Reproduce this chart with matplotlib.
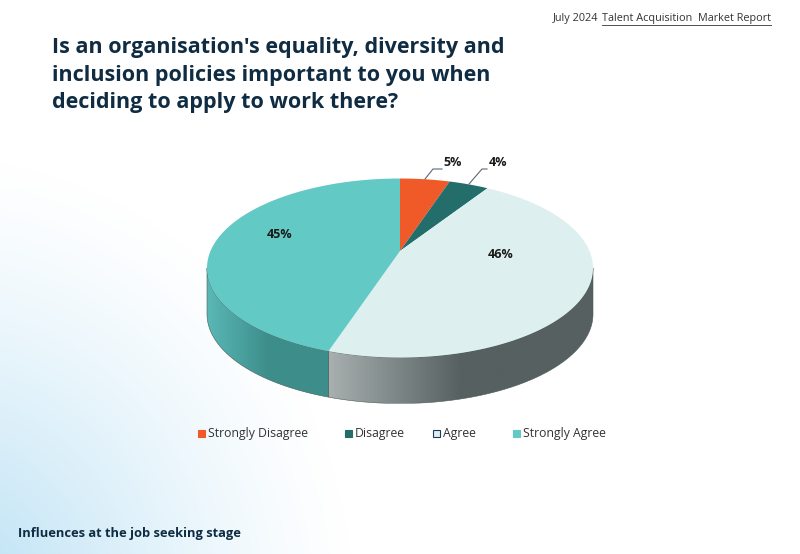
import numpy as np
import matplotlib
matplotlib.use('Agg')
import matplotlib.pyplot as plt
from matplotlib.colors import LinearSegmentedColormap, to_rgb
from matplotlib.patches import Polygon, Rectangle
from matplotlib.lines import Line2D

# data
categories = ['Strongly Disagree', 'Disagree', 'Agree', 'Strongly Agree']
values = [5, 4, 46, 45]
labels = ['5%', '4%', '46%', '45%']
top_colors = ['#f05a28', '#236e6a', '#ddf0ef', '#62c9c5']
side_colors = [('#c8471d', '#a43a18'), ('#2b7a76', '#1c5a57'),
               ('#a7afaf', '#566060'), ('#5ab8b5', '#3d8e8b')]

title = ("Is an organisation's equality, diversity and\n"
         "inclusion policies important to you when\n"
         "deciding to apply to work there?")
navy = '#0f2c42'

W, H = 800, 554
fig = plt.figure(figsize=(W / 100, H / 100), dpi=100)

# background glow bottom-left
bg = fig.add_axes([0, 0, 1, 1])
bg.set_xlim(0, W)
bg.set_ylim(H, 0)
bg.axis('off')
yy, xx = np.mgrid[0:H, 0:W]
d = np.hypot(xx + 60, (yy - H - 60) / 1.1)
a = np.clip(1 - d / 420, 0, 1) ** 1.3
glow = np.zeros((H, W, 4))
glow[..., :3] = to_rgb('#b3def3')
glow[..., 3] = a
bg.imshow(glow, extent=(0, W, H, 0), zorder=0)

# pie drawn in pixel space with a simple perspective tilt
cx, cy = 400, 268          # centre of the top ellipse
half_h = 89.5              # half height of top ellipse
lift = 17                  # how far the disc centre sits above ellipse centre
depth = 46
c = 2 * lift / (2 * half_h)
m = half_h * (1 + c) - lift
k = 193 * np.sqrt(1 - c ** 2)


def proj(theta_deg, r=1.0):
    t = np.radians(theta_deg)
    u, v = r * np.cos(t), r * np.sin(t)
    den = 1 + c * v
    return cx + k * u / den, cy - (m * v + lift) / den


ax = fig.add_axes([0, 0, 1, 1])
ax.patch.set_alpha(0)
wedges, _ = ax.pie(values, startangle=90, counterclock=False)
ax.set_aspect('auto')
ax.set_xlim(0, W)
ax.set_ylim(H, 0)
ax.axis('off')

# side walls for the visible front of the disc
vis0 = 180 + np.degrees(np.arcsin(c))
vis1 = 360 - np.degrees(np.arcsin(c))
for i, w in enumerate(wedges):
    w.set_visible(False)
    lo, hi = w.theta1, w.theta2
    for shift in (0, 360, -360):
        a0 = max(lo + shift, vis0)
        a1 = min(hi + shift, vis1)
        if a1 <= a0:
            continue
        xs, ys = proj(np.linspace(a0, a1, 150))
        pts = np.concatenate([np.column_stack([xs, ys]),
                              np.column_stack([xs[::-1], ys[::-1] + depth])])
        poly = Polygon(pts, closed=True, facecolor='none', edgecolor='#4a5a5a',
                       linewidth=0.4, zorder=3)
        ax.add_patch(poly)
        c0, c1 = side_colors[i]
        cmap = LinearSegmentedColormap.from_list('s', [c0, c1, c1], N=256)
        grad = np.linspace(0, 1, 256).reshape(1, -1)
        im = ax.imshow(grad, cmap=cmap, aspect='auto', zorder=2,
                       extent=(xs.min(), xs.max(), ys.max() + depth, ys.min()))
        im.set_clip_path(poly)

# top faces
for i, w in enumerate(wedges):
    xs, ys = proj(np.linspace(w.theta1, w.theta2, 200))
    x0, y0 = proj(0, 0)
    ax.fill(np.r_[x0, xs], np.r_[y0, ys], color=top_colors[i], linewidth=0, zorder=5)

ax.set_xlim(0, W)
ax.set_ylim(H, 0)

# percentage labels
lab_font = dict(fontsize=9, fontweight='bold', color='#1a1a1a', family='Open Sans',
                zorder=8, va='center')
for txt, (lx, ly), ha in zip(labels, [(443, 162), (489, 162), (501, 255), (280, 235)],
                             ['left', 'left', 'center', 'center']):
    ax.text(lx, ly, txt, ha=ha, **lab_font)
for pts in ([(425, 179), (433, 169), (442, 169)], [(469, 184), (482, 169), (487, 169)]):
    xy = np.array(pts)
    ax.plot(xy[:, 0], xy[:, 1], color='#5a6878', linewidth=0.8, zorder=7)

# title and texts
fig.text(52 / W, 1 - 37 / H, title, fontsize=15.5, fontweight='bold', color=navy,
         family='Open Sans', va='top', ha='left', linespacing=1.42)
fig.text(18 / W, 1 - 534 / H, 'Influences at the job seeking stage', fontsize=9.3,
         fontweight='bold', color=navy, family='Open Sans', va='center', ha='left')

hdr = fig.text(771 / W, 1 - 18 / H, 'Talent Acquisition  Market Report', fontsize=7.8,
               color='#333333', family='Open Sans', va='center', ha='right')
fig.canvas.draw()
bb = hdr.get_window_extent()
fig.text(bb.x0 / W - 0.004, 1 - 18 / H, 'July 2024', fontsize=7.8, color='#333333',
         family='Open Sans', va='center', ha='right')
fig.add_artist(Line2D([bb.x0 / W, bb.x1 / W], [(bb.y0 - 1) / H] * 2,
                      color='#333333', linewidth=0.6))

# legend
leg_x = [198, 345, 433, 513]
for x0, name, col in zip(leg_x, categories, top_colors):
    ec = '#1f3a5a' if name == 'Agree' else col
    fig.add_artist(Rectangle((x0 / W, 1 - 437 / H), 7 / W, 7 / H, facecolor=col,
                             edgecolor=ec, linewidth=0.8, transform=fig.transFigure))
    fig.text((x0 + 10) / W, 1 - 433 / H, name, fontsize=8.8, color='#333333',
             family='Open Sans', va='center', ha='left')

fig.savefig('out.png', dpi=100)
